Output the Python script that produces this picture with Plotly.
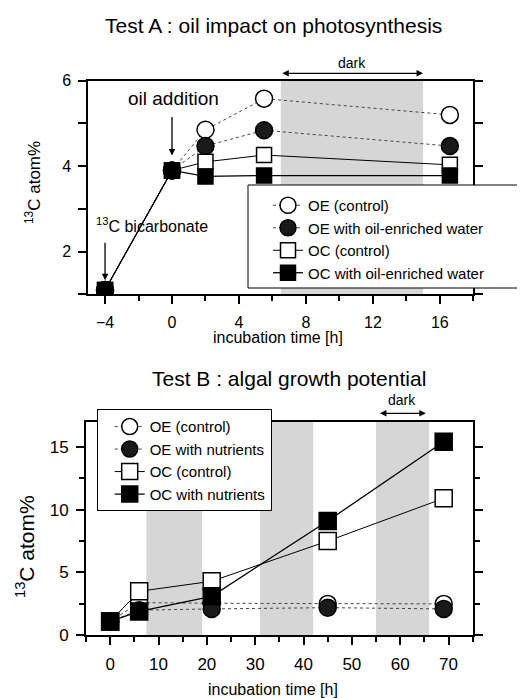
import plotly.graph_objects as go

# ---------------- data: Test A ----------------
a_time = [-4, 0, 2, 5.5, 16.6]
a_oe_control = [1.1, 3.9, 4.85, 5.58, 5.2]
a_oe_oil = [1.1, 3.9, 4.47, 4.84, 4.47]
a_oc_control = [1.1, 3.9, 4.1, 4.26, 4.03]
a_oc_oil = [1.1, 3.9, 3.76, 3.78, 3.78]
a_names = ["OE (control)", "OE with oil-enriched water", "OC (control)", "OC with oil-enriched water"]
a_dark = [6.5, 15]

# ---------------- data: Test B ----------------
b_time = [0, 6, 21, 45, 69]
b_oe_control = [1.1, 2.6, 2.55, 2.5, 2.5]
b_oe_nutr = [1.1, 2.0, 2.1, 2.2, 2.1]
b_oc_control = [1.1, 3.5, 4.3, 7.5, 10.9]
b_oc_nutr = [1.1, 1.9, 3.1, 9.1, 15.4]
b_names = ["OE (control)", "OE with nutrients", "OC (control)", "OC with nutrients"]
b_dark = [[7.5, 19], [31, 42], [55, 66]]

FONT = "Liberation Sans, Arial, sans-serif"
OFF = 8                     # default page margin around the figure div
W, H = 525 - OFF, 698 - OFF


def px(xp):
    return (xp - OFF) / W


def py(yp):
    return 1 - (yp - OFF) / H


styles = [
    dict(symbol="circle", fill="white", dash="dot", lcolor="#444", lw=1),
    dict(symbol="circle", fill="#1a1a1a", dash="dot", lcolor="#444", lw=1),
    dict(symbol="square", fill="white", dash="solid", lcolor="black", lw=1),
    dict(symbol="square", fill="black", dash="solid", lcolor="black", lw=1.3),
]

fig = go.Figure()

a_series = [a_oe_control, a_oe_oil, a_oc_control, a_oc_oil]
for name, ys, st in zip(a_names, a_series, styles):
    fig.add_trace(go.Scatter(
        x=a_time, y=ys, name=name, mode="lines+markers",
        xaxis="x", yaxis="y", legend="legend",
        line=dict(color=st["lcolor"], width=st["lw"], dash=st["dash"]),
        marker=dict(symbol=st["symbol"], size=17 if st["symbol"] == "circle" else 15,
                    color=st["fill"], line=dict(color="black", width=1.5)),
    ))

b_series = [b_oe_control, b_oe_nutr, b_oc_control, b_oc_nutr]
for name, ys, st in zip(b_names, b_series, styles):
    fig.add_trace(go.Scatter(
        x=b_time, y=ys, name=name, mode="lines+markers",
        xaxis="x2", yaxis="y2", legend="legend2",
        line=dict(color=st["lcolor"], width=st["lw"], dash=st["dash"]),
        marker=dict(symbol=st["symbol"], size=17,
                    color=st["fill"], line=dict(color="black", width=1.5)),
    ))

shapes = [dict(type="rect", xref="x", yref="y domain", x0=a_dark[0], x1=a_dark[1], y0=0, y1=1,
               fillcolor="#d6d6d6", line=dict(width=0), layer="below")]
for d0, d1 in b_dark:
    shapes.append(dict(type="rect", xref="x2", yref="y2 domain", x0=d0, x1=d1, y0=0, y1=1,
                       fillcolor="#d6d6d6", line=dict(width=0), layer="below"))
# frame of the top legend (it runs past the right axis to the page edge)
shapes.append(dict(type="rect", xref="paper", yref="paper", x0=px(248), x1=px(532),
                   y0=py(288), y1=py(185), fillcolor="white",
                   line=dict(color="black", width=1), layer="above"))

ann = []


def text(t, x, y, size, xref="paper", yref="paper", **kw):
    d = dict(text=t, x=x, y=y, xref=xref, yref=yref, showarrow=False,
             xanchor="center", yanchor="middle", font=dict(size=size))
    d.update(kw)
    ann.append(d)


# titles
text("Test A : oil impact on photosynthesis", px(273), py(25), 21)
text("Test B : algal growth potential", px(289), py(378), 21)
# y titles
text("<sup>13</sup>C atom%", px(33), py(183), 17, textangle=-90)
text("<sup>13</sup>C atom%", px(25), py(547), 21, textangle=-90)
# x titles
text("incubation time [h]", px(278), py(337), 16)
text("incubation time [h]", px(273), py(689), 16)
# dark labels
text("dark", (a_dark[0] + a_dark[1]) / 2, 1.083, 14, xref="x", yref="y domain")
text("dark", 60.4, 1.10, 14, xref="x2", yref="y2 domain")
# oil addition / bicarbonate labels
text("oil addition", 0.1, 5.59, 19, xref="x", yref="y")
text("<sup>13</sup>C bicarbonate", -4.68, 2.62, 16, xref="x", yref="y", xanchor="left")

# arrows
arrow = dict(text="", showarrow=True, arrowhead=2, arrowsize=1, arrowwidth=1.3,
             arrowcolor="black", xanchor="center", yanchor="middle")
ann.append(dict(arrow, xref="x", yref="y domain", x=a_dark[1], y=1.0346, axref="x",
                ayref="pixel", ax=a_dark[0], ay=0, arrowside="end+start"))
ann.append(dict(arrow, xref="x2", yref="y2 domain", x=65.3, y=1.039, axref="x2",
                ayref="pixel", ax=55.5, ay=0, arrowside="end+start"))
ann.append(dict(arrow, xref="x", yref="y", x=0, y=4.25, ax=0, ay=-40))
ann.append(dict(arrow, xref="x", yref="y", x=-4, y=1.33, ax=0, ay=-39))

axis_common = dict(showline=True, linecolor="black", linewidth=2, showgrid=False, zeroline=False,
                   ticks="outside", ticklen=8, tickwidth=1.5, tickcolor="black", automargin=False)

fig.update_layout(
    width=W, height=H,
    autosize=False,
    margin=dict(l=0, r=0, t=0, b=0, autoexpand=False),
    paper_bgcolor="white", plot_bgcolor="white",
    font=dict(family=FONT, color="black"),
    showlegend=True,
    xaxis=dict(domain=[px(88.3), px(473.3)], range=[-5, 18], anchor="y", tick0=0, dtick=4, mirror=True,
               minor=dict(dtick=2, ticks="outside", ticklen=5, tickwidth=1.5, tickcolor="black"),
               tickfont=dict(size=16), ticklabelstandoff=4, **axis_common),
    yaxis=dict(domain=[py(294.3), py(80.7)], range=[1, 6], anchor="x", tick0=0, dtick=2, mirror="ticks",
               minor=dict(dtick=1, ticks="outside", ticklen=8, tickwidth=1.5, tickcolor="black"),
               tickfont=dict(size=16), ticklabelstandoff=4, **axis_common),
    xaxis2=dict(domain=[px(86), px(472.7)], range=[-5, 75], anchor="y2", tick0=0, dtick=10, mirror=True,
                minor=dict(dtick=5, ticks="outside", ticklen=5, tickwidth=1.5, tickcolor="black"),
                tickfont=dict(size=17), ticklabelstandoff=4, **axis_common),
    yaxis2=dict(domain=[py(635.3), py(421.7)], range=[0, 17], anchor="x2", tick0=0, dtick=5, mirror="ticks",
                minor=dict(dtick=2.5, ticks="outside", ticklen=5, tickwidth=1.5, tickcolor="black"),
                tickfont=dict(size=17), ticklabelstandoff=4, **axis_common),
    legend=dict(x=px(248), y=py(189), xanchor="left", yanchor="top", bgcolor="rgba(0,0,0,0)",
                borderwidth=0, font=dict(size=15), indentation=20, tracegroupgap=0),
    legend2=dict(x=px(96.7), y=py(409.3), xanchor="left", yanchor="top", bgcolor="white",
                 bordercolor="black", borderwidth=1, font=dict(size=15), indentation=12,
                 tracegroupgap=0),
    shapes=shapes,
    annotations=ann,
)

fig.write_html("out.html")
